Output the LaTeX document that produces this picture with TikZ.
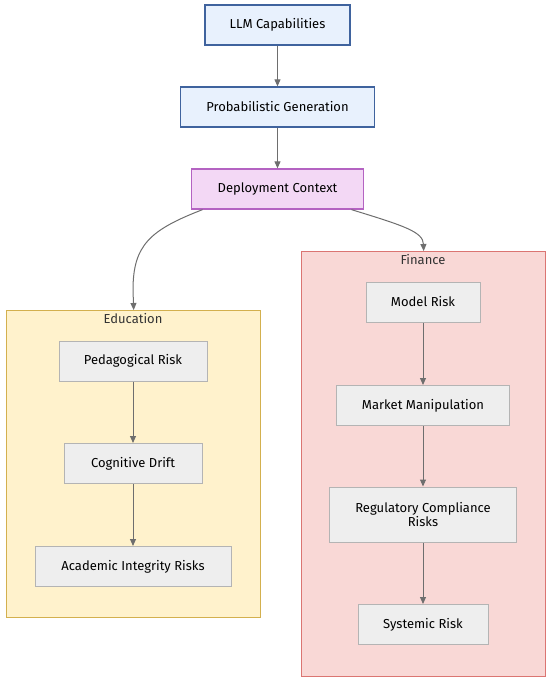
\documentclass[tikz,border=0pt]{standalone}
\usepackage{fontspec}
\setmainfont{Fira Sans}
\usepackage{tikz}
\usetikzlibrary{arrows.meta}

\definecolor{coreFill}{HTML}{E8F1FD}
\definecolor{coreLine}{HTML}{3F639E}
\definecolor{ctxFill}{HTML}{F3D8F5}
\definecolor{ctxLine}{HTML}{B463C2}
\definecolor{riskFill}{HTML}{EEEEEE}
\definecolor{riskLine}{HTML}{B4B4B4}
\definecolor{eduFill}{HTML}{FFF2CC}
\definecolor{eduLine}{HTML}{D3B04E}
\definecolor{finFill}{HTML}{F9D8D6}
\definecolor{finLine}{HTML}{DB7572}
\definecolor{linkGray}{HTML}{6E6E6E}
\definecolor{titleGray}{HTML}{333333}

\tikzset{
	box/.style={draw, minimum height=40, align=center, text=black,
			font=\fontsize{13}{14.5}\selectfont},
	corebox/.style={box, fill=coreFill, draw=coreLine, line width=1.3pt},
	ctxbox/.style={box, fill=ctxFill, draw=ctxLine, line width=1.3pt},
	riskbox/.style={box, fill=riskFill, draw=riskLine, line width=1pt},
	edubox/.style={fill=eduFill, draw=eduLine, line width=1.4pt, anchor=north west, inner sep=0pt},
	finbox/.style={fill=finFill, draw=finLine, line width=1.4pt, anchor=north west, inner sep=0pt},
	clustertitle/.style={text=titleGray, font=\fontsize{13}{14.5}\selectfont},
	link/.style={->, draw=linkGray, line width=1pt}
}

\begin{document}
\begin{tikzpicture}[x=1pt, y=-1pt, >={Triangle[length=7pt,width=6pt]}]

		\useasboundingbox (0,0) rectangle (550,682);

		% Clusters
		\node[edubox, minimum width=254, minimum height=307] (edu) at (6,310) {};
		\node[clustertitle] (eduTitle) at (133,319) {Education};

		\node[finbox, minimum width=244, minimum height=425] (fin) at (301,251) {};
		\node[clustertitle] (finTitle) at (423,260) {Finance};

		% Top chain
		\node[corebox, minimum width=145] (llm) at (277.5,25) {LLM Capabilities};
		\node[corebox, minimum width=194] (prob) at (277.5,107) {Probabilistic Generation};
		\node[ctxbox, minimum width=172] (ctx) at (277.5,189) {Deployment Context};

		% Education risks
		\node[riskbox, minimum width=148] (peda) at (133,361) {Pedagogical Risk};
		\node[riskbox, minimum width=138] (drift) at (133,463.5) {Cognitive Drift};
		\node[riskbox, minimum width=196] (integ) at (133,566.5) {Academic Integrity Risks};

		% Finance risks
		\node[riskbox, minimum width=114] (model) at (423,302) {Model Risk};
		\node[riskbox, minimum width=173] (market) at (423,405.5) {Market Manipulation};
		\node[riskbox, minimum width=187, minimum height=55] (regul) at (423,514.5) {Regulatory Compliance\\Risks};
		\node[riskbox, minimum width=130] (sys) at (423,624.5) {Systemic Risk};

		% --- Connecting Lines ---
		\draw[link] (llm) -- (prob);
		\draw[link] (prob) -- (ctx);

		% Context to the two domains (curved)
		\draw[link] ([xshift=-75pt]ctx.south) .. controls (150,230) and (133,245) .. (133,290) -- (edu.north);
		\draw[link] ([xshift=74pt]ctx.south) .. controls (405,226) and (423,232) .. (fin.north);

		% Education chain
		\draw[link] (peda) -- (drift);
		\draw[link] (drift) -- (integ);

		% Finance chain
		\draw[link] (model) -- (market);
		\draw[link] (market) -- (regul);
		\draw[link] (regul) -- (sys);

	\end{tikzpicture}
\end{document}
